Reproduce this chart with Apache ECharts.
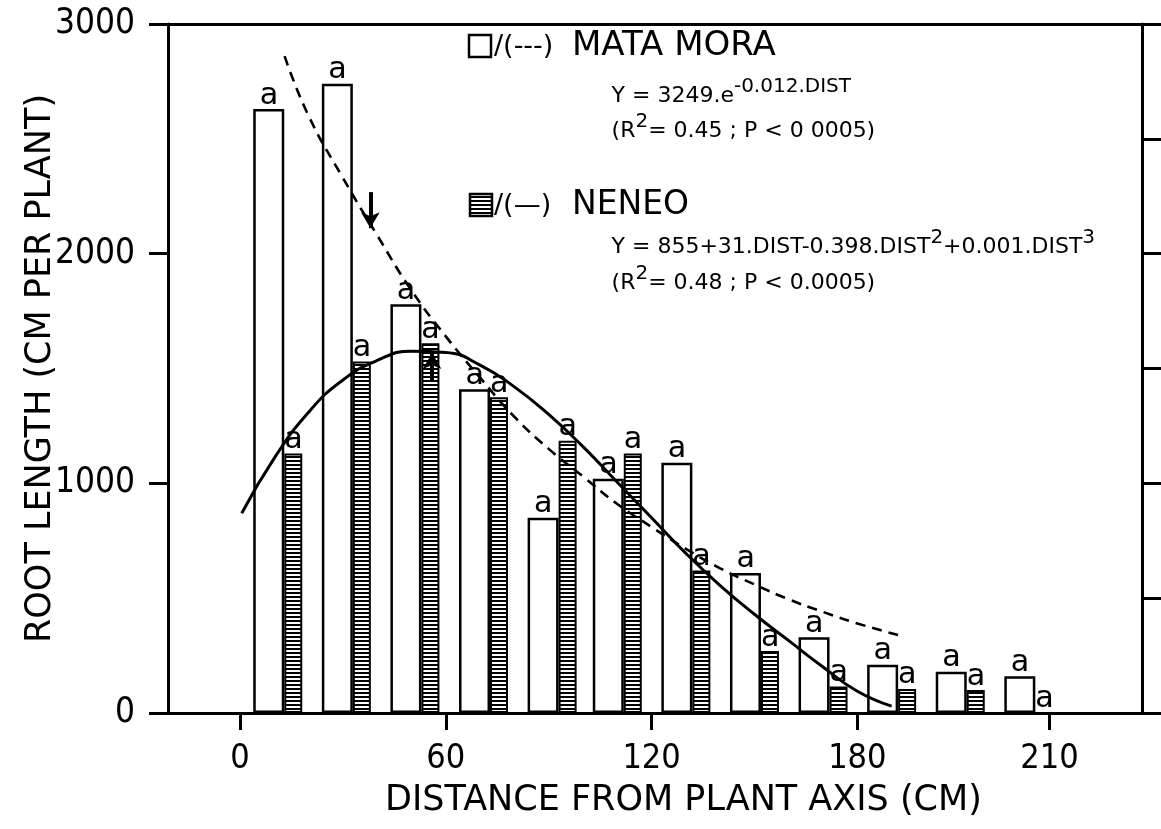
<!DOCTYPE html>
<html><head><meta charset="utf-8">
<script src="https://cdn.jsdelivr.net/npm/echarts@6/dist/echarts.min.js"></script>
<style>html,body{margin:0;padding:0;background:#fff}#c{width:1161px;height:829px}</style>
</head><body><div id="c"></div>
<script>
// ---- data ----
const groupX = [11, 31, 51, 71, 91, 110, 130, 150, 170, 190, 210, 230];
const mataMora = [2630, 2740, 1780, 1410, 850, 1020, 1090, 610, 330, 210, 180, 160];
const neneo    = [1130, 1530, 1610, 1375, 1185, 1130, 620, 270, 115, 105, 100, 0];
const expDist  = [13, 20, 30, 40, 50, 60, 70, 80, 90, 100, 110, 120, 130, 140, 150, 160, 170, 180, 193];
const expVal   = [2860, 2600, 2330, 2080, 1840, 1640, 1460, 1290, 1150, 1030, 910, 810, 715, 630, 560, 495, 440, 390, 335];
const cubDist  = [0.5, 10, 20, 30, 40, 50, 60, 70, 80, 90, 100, 110, 120, 130, 140, 150, 160, 170, 180, 190];
const cubVal   = [870, 1110, 1310, 1450, 1535, 1575, 1570, 1515, 1420, 1300, 1160, 1005, 850, 695, 555, 430, 315, 200, 95, 30];
const arrowDown = [[38, 2268], [38, 2111]];
const arrowUp   = [[56, 1450], [56, 1567]];
const xTickValues = [0, 60, 120, 180, 236];
const xTickLabels = ['0', '60', '120', '180', '210'];
const barLetter = 'a';

function hatchCanvas() {
  const c = document.createElement('canvas');
  c.width = 8; c.height = 4;
  const g = c.getContext('2d');
  g.fillStyle = '#fff'; g.fillRect(0, 0, 8, 4);
  g.fillStyle = '#000'; g.fillRect(0, 0, 8, 2);
  return c;
}
const hatch = { image: hatchCanvas(), repeat: 'repeat' };

const FONT = 'DejaVu Sans';
const COND = '"DejaVu Sans Condensed", "DejaVu Sans"';

const labelStyle = {
  show: true, position: 'top', formatter: barLetter, distance: -2,
  fontFamily: 'DejaVu Sans Mono', fontSize: 31, color: '#000'
};

const eqRich = {
  h: { fontSize: 2, lineHeight: 30 },
  n: { fontFamily: FONT, fontSize: 22, lineHeight: 22, verticalAlign: 'bottom', fill: '#000' },
  s: { fontFamily: FONT, fontSize: 20, lineHeight: 20, verticalAlign: 'top', fill: '#000' }
};

const chart = echarts.init(document.getElementById('c'));
chart.setOption({
  backgroundColor: '#fff',
  animation: false,
  grid: { left: 168, right: 19, top: 24, bottom: 116 },
  xAxis: [{
    type: 'value', min: -21, max: 263, position: 'bottom',
    axisLine: { show: true, onZero: false, lineStyle: { color: '#000', width: 3 } },
    axisTick: { show: true, customValues: xTickValues, length: 17, lineStyle: { color: '#000', width: 3 } },
    axisLabel: {
      show: true, customValues: xTickValues, margin: 29,
      formatter: v => xTickLabels[xTickValues.indexOf(v)],
      fontFamily: COND, fontSize: 34, color: '#000'
    },
    splitLine: { show: false }
  }, {
    type: 'value', min: -21, max: 263, position: 'top',
    axisLine: { show: true, onZero: false, lineStyle: { color: '#000', width: 3 } },
    axisTick: { show: false }, axisLabel: { show: false }, splitLine: { show: false }
  }],
  yAxis: [{
    type: 'value', min: 0, max: 3000, interval: 1000, position: 'left',
    name: 'ROOT LENGTH (CM PER PLANT)', nameLocation: 'middle', nameGap: 110, nameRotate: 90,
    nameMoveOverlap: false,
    nameTextStyle: { fontFamily: FONT, fontSize: 35, color: '#000' },
    axisLine: { show: true, onZero: false, lineStyle: { color: '#000', width: 3 } },
    axisTick: { show: true, length: 19, lineStyle: { color: '#000', width: 3 } },
    axisLabel: { margin: 33, fontFamily: COND, fontSize: 35, color: '#000', formatter: v => String(v) },
    splitLine: { show: false }
  }, {
    type: 'value', min: 0, max: 3000, interval: 500, position: 'right',
    axisLine: { show: true, onZero: false, lineStyle: { color: '#000', width: 3 } },
    axisTick: { show: true, length: 22, lineStyle: { color: '#000', width: 3 } },
    axisLabel: { show: false }, splitLine: { show: false }
  }],
  series: [{
    name: 'MATA MORA', type: 'bar', barWidth: 31, barGap: '0%',
    data: groupX.map((x, i) => [x, mataMora[i]]),
    itemStyle: { color: '#fff', borderColor: '#000', borderWidth: 2.5 },
    label: labelStyle, z: 2
  }, {
    name: 'NENEO', type: 'bar', barWidth: 18, barGap: '0%',
    data: groupX.map((x, i) => [x, neneo[i]]),
    itemStyle: { color: hatch, borderColor: '#000', borderWidth: 2 },
    label: labelStyle, z: 2
  }, {
    name: 'MATA MORA fit', type: 'line', smooth: true, symbol: 'none', z: 5,
    data: expDist.map((x, i) => [x, expVal[i]]),
    lineStyle: { color: '#000', width: 2.6, type: [10, 7] },
    markLine: {
      silent: true, symbol: ['none', 'arrow'], symbolSize: [14, 16],
      lineStyle: { color: '#000', width: 4, type: 'solid' }, label: { show: false },
      data: [
        [{ coord: arrowDown[0] }, { coord: arrowDown[1] }],
        [{ coord: arrowUp[0] }, { coord: arrowUp[1] }]
      ]
    }
  }, {
    name: 'NENEO fit', type: 'line', smooth: true, symbol: 'none', z: 5,
    data: cubDist.map((x, i) => [x, cubVal[i]]),
    lineStyle: { color: '#000', width: 3, type: 'solid' }
  }],
  graphic: [
    { type: 'text', x: 385, y: 801,
      style: { text: 'DISTANCE FROM PLANT AXIS (CM)', font: '35px "DejaVu Sans"', fill: '#000', verticalAlign: 'middle' }, z: 10 },
    { type: 'rect', shape: { x: 469, y: 35, width: 22, height: 22 },
      style: { fill: '#fff', stroke: '#000', lineWidth: 2.5 } },
    { type: 'text', x: 494, y: 47, style: { text: '/(---)', font: '27px "DejaVu Sans"', fill: '#000', verticalAlign: 'middle' } },
    { type: 'text', x: 572, y: 46, style: { text: 'MATA MORA', font: '34px "DejaVu Sans"', fill: '#000', verticalAlign: 'middle' } },
    { type: 'text', x: 611, y: 92,
      style: { text: '{h| }{n|Y = 3249.e}{s|-0.012.DIST}', rich: eqRich, verticalAlign: 'middle' } },
    { type: 'text', x: 611, y: 127,
      style: { text: '{h| }{n|(R}{s|2}{n|= 0.45 ; P < 0 0005)}', rich: eqRich, verticalAlign: 'middle' } },
    { type: 'rect', shape: { x: 470, y: 194, width: 22, height: 22 },
      style: { fill: hatch, stroke: '#000', lineWidth: 2.5 } },
    { type: 'text', x: 494, y: 206, style: { text: '/(\u2014)', font: '27px "DejaVu Sans"', fill: '#000', verticalAlign: 'middle' } },
    { type: 'text', x: 572, y: 205, style: { text: 'NENEO', font: '33px "DejaVu Sans"', fill: '#000', verticalAlign: 'middle' } },
    { type: 'text', x: 611, y: 243,
      style: { text: '{h| }{n|Y = 855+31.DIST-0.398.DIST}{s|2}{n|+0.001.DIST}{s|3}', rich: eqRich, verticalAlign: 'middle' } },
    { type: 'text', x: 611, y: 279,
      style: { text: '{h| }{n|(R}{s|2}{n|= 0.48 ; P < 0.0005)}', rich: eqRich, verticalAlign: 'middle' } }
  ]
});
</script>
</body></html>
